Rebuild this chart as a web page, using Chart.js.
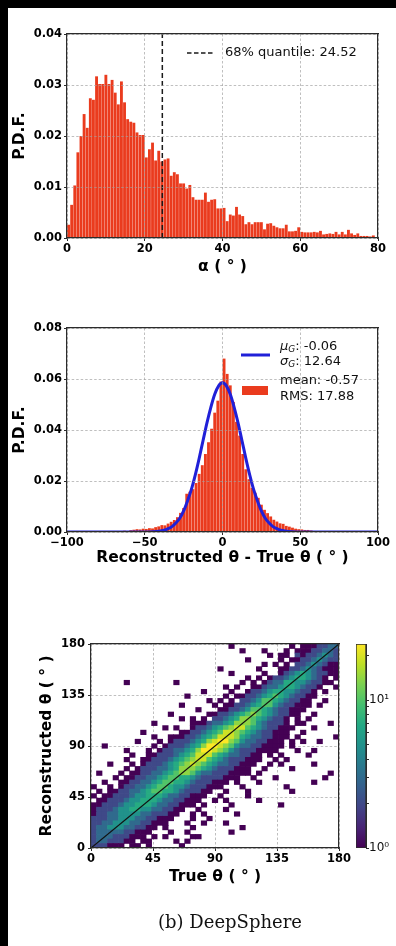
<!DOCTYPE html>
<html>
<head>
<meta charset="utf-8">
<script src="https://cdn.jsdelivr.net/npm/chart.js@4.4.1/dist/chart.umd.min.js"></script>
<style>
  html, body { margin: 0; padding: 0; background: #fff; }
  body { width: 396px; height: 946px; position: relative; overflow: hidden; }
  canvas { position: absolute; left: 0; }
  .frame { position: absolute; background: #000; z-index: 5; }
  #caption { position: absolute; left: 110px; top: 911px; width: 240px; text-align: center;
    font-family: "DejaVu Serif", serif; font-size: 18px; line-height: 22px; color: #111; }
</style>
</head>
<body>
<div class="frame" style="left:0;top:0;width:396px;height:8px"></div>
<div class="frame" style="left:0;top:0;width:8px;height:946px"></div>
<canvas id="alphaChart" style="top:0" width="396" height="300"></canvas>
<canvas id="residChart" style="top:300px" width="396" height="300"></canvas>
<canvas id="thetaChart" style="top:600px" width="396" height="346"></canvas>
<canvas id="cbarChart" style="top:600px;left:340px" width="56" height="346"></canvas>
<div id="caption">(b) DeepSphere</div>
<script>
// opening angle alpha, 100 bins of 0.8 deg from 0
const alphaBinStart = 0, alphaBinWidth = 0.8;
const alphaPdf = [
  0.0026, 0.0065, 0.0103, 0.0168, 0.0200, 0.0243, 0.0216, 0.0274, 0.0271, 0.0317,
  0.0302, 0.0302, 0.0320, 0.0302, 0.0310, 0.0285, 0.0262, 0.0307, 0.0266, 0.0233,
  0.0228, 0.0226, 0.0207, 0.0202, 0.0202, 0.0158, 0.0174, 0.0187, 0.0152, 0.0171,
  0.0150, 0.0154, 0.0156, 0.0122, 0.0129, 0.0125, 0.0107, 0.0107, 0.0097, 0.0104,
  0.0080, 0.0075, 0.0075, 0.0075, 0.0089, 0.0071, 0.0075, 0.0076, 0.0058, 0.0058,
  0.0059, 0.0033, 0.0046, 0.0044, 0.0061, 0.0046, 0.0043, 0.0027, 0.0031, 0.0027,
  0.0031, 0.0031, 0.0031, 0.0017, 0.0028, 0.0029, 0.0024, 0.0021, 0.0019, 0.0019,
  0.0026, 0.0013, 0.0013, 0.0014, 0.0021, 0.0012, 0.0011, 0.0011, 0.0011, 0.0012,
  0.0011, 0.0014, 0.0007, 0.0008, 0.0009, 0.0008, 0.0012, 0.0007, 0.0012, 0.0007,
  0.0016, 0.0009, 0.0006, 0.0009, 0.0004, 0.0004, 0.0004, 0.0003, 0.0005, 0.0002
];
const alphaQuantile = 24.52;
const alphaXTicks = [0, 20, 40, 60, 80];
const alphaYTicks = [0, 0.01, 0.02, 0.03, 0.04];

// reconstructed - true theta, 100 bins of 2 deg from -100
const residBinStart = -100, residBinWidth = 2;
const residPdf = [
  0, 0, 0, 0, 0, 0, 0, 0, 0, 0,
  0, 0.0001, 0, 0.0002, 0.0002, 0.0003, 0.0002, 0.0004, 0.0005, 0.0004,
  0.0007, 0.0009, 0.0011, 0.0010, 0.0013, 0.0012, 0.0015, 0.0014, 0.0019, 0.0022,
  0.0027, 0.0026, 0.0033, 0.0040, 0.0047, 0.0058, 0.0075, 0.0094, 0.0150, 0.0158,
  0.0168, 0.0192, 0.0228, 0.0262, 0.0306, 0.0352, 0.0405, 0.0468, 0.0515, 0.0590,
  0.0680, 0.0620, 0.0575, 0.0510, 0.0432, 0.0378, 0.0306, 0.0246, 0.0207, 0.0173,
  0.0154, 0.0134, 0.0107, 0.0087, 0.0074, 0.0061, 0.0048, 0.0041, 0.0034, 0.0032,
  0.0024, 0.0021, 0.0017, 0.0013, 0.0011, 0.0010, 0.0008, 0.0008, 0.0006, 0.0004,
  0.0003, 0.0003, 0.0002, 0.0001, 0.0002, 0.0001, 0, 0, 0.0001, 0,
  0, 0, 0, 0, 0, 0, 0, 0, 0, 0
];
const gaussX = [-100, -50, -45, -40, -37.5, -35, -32.5, -30, -27.5, -25, -22.5, -20, -17.5, -15, -12.5, -10, -7.5, -5, -2.5,
  0, 2.5, 5, 7.5, 10, 12.5, 15, 17.5, 20, 22.5, 25, 27.5, 30, 32.5, 35, 37.5, 40, 45, 50, 100];
const gaussY = [0, 0, 0.0001, 0.0004, 0.0007, 0.0013, 0.0021, 0.0035, 0.0054, 0.0083, 0.0122, 0.0167, 0.0224, 0.0289, 0.0359, 0.0428, 0.0489, 0.0540, 0.0573,
  0.0585, 0.0573, 0.0540, 0.0489, 0.0428, 0.0359, 0.0289, 0.0224, 0.0167, 0.0122, 0.0083, 0.0054, 0.0035, 0.0021, 0.0013, 0.0007, 0.0004, 0.0001, 0, 0];
const gaussMu = -0.06, gaussSigma = 12.64, residMean = -0.57, residRms = 17.88;
const residXTicks = [-100, -50, 0, 50, 100];
const residYTicks = [0, 0.02, 0.04, 0.06, 0.08];

// 2D histogram, 4 deg cells; rows from top (176-180) down to (0-4); chars index countLevels
const thetaBinWidth = 4, thetaMax = 180;
const thetaRows = [
  "..... ..... ..... ..... ..... 1.... ..... .1.11 12233",
  "..... ..... ..... ..... ..... ..1.. .1... 1.111 22332",
  "..... ..... ..... ..... ..... ..... ..1.1 1.212 23432",
  "..... ..... ..... ..... ..... ...1. ....1 .1122 34322",
  "..... ..... ..... ..... ..... ..... .1.1. 1.223 43211",
  "..... ..... ..... ..... ...1. ..... 1...1 12234 32111",
  "..... ..... ..... ..... ..... 1.... .1..1 23454 32211",
  "..... ..... ..... ..... ..... ...1. 1.122 34554 321.1",
  "..... .1... ..... 1.... ..... ..1.1 .1233 55443 2211.",
  "..... ..... ..... ..... ....1 .1..1 12334 55432 21..1",
  "..... ..... ..... ..... 1.... 1..12 23455 44322 1.1..",
  "..... ..... ..... ..1.. ....1 .1122 34565 43221 1....",
  "..... ..... ..... ..... .1.1. 1.223 46654 32211 ..1..",
  "..... ..... ..... .1... ..1.1 12234 56643 22111 .1...",
  "..... ..... ..... ....1 ...11 22346 65432 2111. .....",
  "..... ..... ....1 ..... .1122 34567 65432 211.. 1....",
  "..... ..... ..... .1.1. 1.223 45776 54322 1.1.1 .....",
  "..... ..... .1... ...11 12334 57776 43222 1.11. ...1.",
  "..... ..... ...1. 1..12 23456 78865 43221 11... 1....",
  "..... ....1 ..... .1122 34568 87654 32211 1..1. .....",
  "..... ..... .1..1 11223 45688 87543 32211 1.1.. ....1",
  "..... ...1. ..1.1 22234 57899 76433 22111 .1.1. .1...",
  "..1.. ..... .1.12 22345 79987 64332 21111 .1... .....",
  "..... .1... 1.122 33457 99876 43222 1111. ..1.. 1....",
  "..... ..1.. 11222 34568 88654 33221 1.1.1 ....1 .....",
  "..... .1..1 12223 45678 86543 22211 1..1. 1.... .....",
  "...1. ..1.1 22234 56787 65433 22111 ..1.1 ..... 1....",
  "..... .1.12 22334 57776 54322 2111. .1... .1... .....",
  ".1... 1.112 23345 67764 33222 1111. 1.... ..... ...1.",
  "....1 .1122 33456 65543 22221 11..1 ...1. ..... ..1..",
  "..1.. 11223 34566 55432 22111 .1... 1.... ..... 1....",
  "1..1. 12233 45665 44322 2111. ..1.. ..... 1.... .....",
  ".1.11 22334 56655 43222 11..1 ...1. ..... .1... .....",
  "1.112 22344 55543 32211 1..1. ...1. ..... ..... .....",
  ".1122 23445 55433 22111 ..1.1 ..... 1.... ..... .....",
  "11222 34455 54332 2111. 1.... 1.... ....1 ..... .....",
  "12223 44554 43322 11..1 ....1 ..... ..... ..... .....",
  "12233 44443 32221 1..1. 1.... .1... ..... ..... .....",
  "22233 44433 22111 ...1. .1... ..... ..... ..... .....",
  "22334 44332 2111. ..1.. 1...1 ..... ..... ..... .....",
  "23344 43322 11.1. ...1. ..... ..1.. ..... ..... .....",
  "23333 32211 1...1 ..1.. ..... 1.... ..... ..... .....",
  "23332 22111 .1.1. ...11 ..... ..... ..... ..... .....",
  "23322 211.1 1.... 1.1.. ..... ..... ..... ..... .....",
  "22211 1.11. 1.... .1... ..... ..... ..... ..... ....."
];
const countLevels = [0, 1, 2, 3, 5, 7, 10, 14, 19, 24];
const thetaTicks = [0, 45, 90, 135, 180];
const cbarRange = [1, 24];
const cbarTicks = [1, 2, 3, 4, 5, 6, 7, 8, 9, 10, 20];

// ---- styling ----
Chart.defaults.font.family = "'DejaVu Sans', sans-serif";
const red = '#ea3b1e';
const blue = '#2020d8';
const gridColor = 'rgba(160,160,160,0.85)';
const frameColor = '#2b2b2b';
const tickFont = { family: 'DejaVu Sans', size: 11.5, weight: 'bold' };
const titleFont = { family: 'DejaVu Sans', size: 15.5, weight: 'bold' };
const viridisStops = ['#440154', '#482475', '#414487', '#355f8d', '#2a788e', '#21918c',
  '#22a884', '#44bf70', '#7ad151', '#bddf26', '#fde725'];

function hexRgb(h) {
  return [1, 3, 5].map(i => parseInt(h.slice(i, i + 2), 16));
}
function viridis(t) {
  t = Math.min(1, Math.max(0, t));
  const p = t * (viridisStops.length - 1);
  const i = Math.min(Math.floor(p), viridisStops.length - 2), f = p - i;
  const a = hexRgb(viridisStops[i]), b = hexRgb(viridisStops[i + 1]);
  return 'rgb(' + a.map((v, k) => Math.round(v + (b[k] - v) * f)).join(',') + ')';
}

function axis(o) {
  return {
    type: 'linear', position: o.position, min: o.min, max: o.max, offset: false,
    afterBuildTicks: s => { s.ticks = o.ticks.map(v => ({ value: v })); },
    afterFit: o.fit,
    ticks: { font: tickFont, color: '#000', padding: o.pad, autoSkip: false, maxRotation: 0, callback: o.label },
    grid: { color: gridColor, lineWidth: 0.8, offset: false, tickLength: 3, tickColor: frameColor, tickWidth: 1, z: o.gridZ },
    border: { color: frameColor, width: 1.2, dash: [2.5, 2], z: 2 },
    title: { display: true, text: o.title, font: titleFont, color: '#000', padding: o.titlePad }
  };
}
function frameEdges() {
  const edge = { color: frameColor, width: 1.2, z: 2 };
  return {
    xTop: { type: 'linear', position: 'top', afterFit: s => { s.height = 0; },
      ticks: { display: false }, grid: { display: false, drawTicks: false }, border: edge },
    yRight: { type: 'linear', position: 'right', afterFit: s => { s.width = 0; },
      ticks: { display: false }, grid: { display: false, drawTicks: false }, border: edge }
  };
}
const minus = v => String(v).replace('-', '\u2212');
const common = {
  responsive: false, animation: false, events: [],
  plugins: { legend: { display: false }, tooltip: { enabled: false } }
};

// ---- chart 1: alpha ----
const alphaLegend = {
  id: 'alphaLegend',
  afterDraw(chart) {
    const { ctx, chartArea: a } = chart;
    const y = a.top + 19;
    ctx.save();
    ctx.strokeStyle = '#1a1a1a'; ctx.lineWidth = 1.5; ctx.setLineDash([4.5, 2.5]);
    ctx.beginPath(); ctx.moveTo(a.left + 120, y); ctx.lineTo(a.left + 146, y); ctx.stroke();
    ctx.setLineDash([]);
    ctx.fillStyle = '#111'; ctx.font = '13px "DejaVu Sans"'; ctx.textBaseline = 'middle';
    ctx.fillText('68% quantile: ' + alphaQuantile.toFixed(2), a.left + 158, y);
    ctx.restore();
  }
};

new Chart(document.getElementById('alphaChart'), {
  type: 'bar',
  data: { datasets: [
    { type: 'line', xAxisID: 'x', yAxisID: 'y', order: 1,
      data: [{ x: alphaQuantile, y: 0 }, { x: alphaQuantile, y: alphaYTicks[alphaYTicks.length - 1] }],
      borderColor: '#1a1a1a', borderWidth: 1.5, borderDash: [5, 3], pointRadius: 0 },
    { xAxisID: 'x', yAxisID: 'y', order: 2,
      data: alphaPdf.map((v, i) => ({ x: alphaBinStart + (i + 0.5) * alphaBinWidth, y: v })),
      backgroundColor: red, categoryPercentage: 1, barPercentage: 0.92 }
  ]},
  options: Object.assign({}, common, {
    layout: { padding: { left: 0, top: 34, right: 18, bottom: 22 } },
    scales: Object.assign({
      x: axis({ position: 'bottom', min: 0, max: 80, ticks: alphaXTicks, fit: s => { s.height = 40; },
        pad: 1, label: v => String(v), gridZ: 1, title: 'α ( ° )', titlePad: { top: 0, bottom: 1.7 } }),
      y: axis({ position: 'left', min: 0, max: 0.04, ticks: alphaYTicks, fit: s => { s.width = 67; },
        pad: 2, label: v => v.toFixed(2), gridZ: 1, title: 'P.D.F.', titlePad: { top: 10.7, bottom: 0 } })
    }, frameEdges())
  }),
  plugins: [alphaLegend]
});

// ---- chart 2: residuals ----
const residLegend = {
  id: 'residLegend',
  afterDraw(chart) {
    const { ctx, chartArea: a } = chart;
    const tx = a.left + 213;
    ctx.save();
    ctx.strokeStyle = blue; ctx.lineWidth = 3;
    ctx.beginPath(); ctx.moveTo(a.left + 174, a.top + 27); ctx.lineTo(a.left + 203, a.top + 27); ctx.stroke();
    ctx.fillStyle = red;
    ctx.fillRect(a.left + 175, a.top + 58, 26, 9);
    ctx.fillStyle = '#111'; ctx.textBaseline = 'middle';
    const sub = (sym, rest, y) => {
      let x = tx;
      ctx.font = 'italic 13px "DejaVu Sans"'; ctx.fillText(sym, x, y); x += ctx.measureText(sym).width;
      ctx.font = 'italic 9px "DejaVu Sans"'; ctx.fillText('G', x, y + 3); x += ctx.measureText('G').width;
      ctx.font = '13px "DejaVu Sans"'; ctx.fillText(rest, x, y);
    };
    sub('μ', ': ' + gaussMu.toFixed(2), a.top + 19);
    sub('σ', ': ' + gaussSigma.toFixed(2), a.top + 34);
    ctx.font = '13px "DejaVu Sans"';
    ctx.fillText('mean: ' + residMean.toFixed(2), tx, a.top + 53);
    ctx.fillText('RMS: ' + residRms.toFixed(2), tx, a.top + 69);
    ctx.restore();
  }
};

new Chart(document.getElementById('residChart'), {
  type: 'bar',
  data: { datasets: [
    { type: 'line', xAxisID: 'x', yAxisID: 'y', order: 1,
      data: gaussX.map((x, i) => ({ x: x, y: gaussY[i] })),
      borderColor: blue, borderWidth: 3, pointRadius: 0, cubicInterpolationMode: 'monotone' },
    { xAxisID: 'x', yAxisID: 'y', order: 2,
      data: residPdf.map((v, i) => ({ x: residBinStart + (i + 0.5) * residBinWidth, y: v })),
      backgroundColor: red, categoryPercentage: 1, barPercentage: 0.92 }
  ]},
  options: Object.assign({}, common, {
    layout: { padding: { left: 0, top: 28, right: 18, bottom: 28 } },
    scales: Object.assign({
      x: axis({ position: 'bottom', min: -100, max: 100, ticks: residXTicks, fit: s => { s.height = 40; },
        pad: 1, label: minus, gridZ: 1, title: 'Reconstructed θ - True θ ( ° )', titlePad: { top: 0, bottom: 4.7 } }),
      y: axis({ position: 'left', min: 0, max: 0.08, ticks: residYTicks, fit: s => { s.width = 67; },
        pad: 2, label: v => v.toFixed(2), gridZ: 1, title: 'P.D.F.', titlePad: { top: 10.7, bottom: 0 } })
    }, frameEdges())
  }),
  plugins: [residLegend]
});

// ---- chart 3: true vs reconstructed theta ----
const cells = [], cellColors = [];
thetaRows.forEach((row, r) => {
  row.replace(/ /g, '').split('').forEach((ch, c) => {
    if (ch === '.') return;
    const top = thetaMax - r * thetaBinWidth;
    cells.push({ x: (c + 0.5) * thetaBinWidth, y: [top - thetaBinWidth, top] });
    cellColors.push(viridis(Math.log(countLevels[+ch]) / Math.log(cbarRange[1])));
  });
});

new Chart(document.getElementById('thetaChart'), {
  type: 'bar',
  data: { datasets: [
    { type: 'line', xAxisID: 'x', yAxisID: 'y', order: 0,
      data: [{ x: 0, y: 0 }, { x: thetaMax, y: thetaMax }],
      borderColor: '#111', borderWidth: 1.2, pointRadius: 0 },
    { xAxisID: 'x', yAxisID: 'y', order: 1, data: cells, backgroundColor: cellColors,
      borderWidth: 0, categoryPercentage: 1, barPercentage: 1 }
  ]},
  options: Object.assign({}, common, {
    layout: { padding: { left: 0, top: 44, right: 57, bottom: 58 } },
    scales: Object.assign({
      x: axis({ position: 'bottom', min: 0, max: thetaMax, ticks: thetaTicks, fit: s => { s.height = 40; },
        pad: 1, label: v => String(v), gridZ: -1, title: 'True θ ( ° )', titlePad: { top: 0, bottom: 2 } }),
      y: axis({ position: 'left', min: 0, max: thetaMax, ticks: thetaTicks, fit: s => { s.width = 91; },
        pad: 3, label: v => String(v), gridZ: -1, title: 'Reconstructed θ ( ° )', titlePad: { top: 37.7, bottom: 0 } })
    }, frameEdges())
  })
});

// ---- colorbar ----
new Chart(document.getElementById('cbarChart'), {
  type: 'bar',
  data: { labels: [''], datasets: [{
    data: [cbarRange],
    backgroundColor: c => {
      const a = c.chart.chartArea;
      if (!a) return viridis(0.5);
      const g = c.chart.ctx.createLinearGradient(0, a.bottom, 0, a.top);
      viridisStops.forEach((col, i) => g.addColorStop(i / (viridisStops.length - 1), col));
      return g;
    },
    borderColor: frameColor, borderWidth: 1, borderSkipped: false,
    categoryPercentage: 1, barPercentage: 1
  }]},
  options: Object.assign({}, common, {
    layout: { padding: { left: 16, top: 44, right: 0, bottom: 98 } },
    scales: {
      x: { display: false },
      y: { type: 'logarithmic', position: 'right', min: cbarRange[0], max: cbarRange[1],
        afterBuildTicks: s => { s.ticks = cbarTicks.map(v => ({ value: v })); },
        afterFit: s => { s.width = 30; },
        ticks: { font: { family: 'DejaVu Sans', size: 12 }, color: '#111', padding: 0, autoSkip: false,
          callback: v => v === 1 ? '10\u2070' : (v === 10 ? '10\u00b9' : '') },
        grid: { display: true, drawOnChartArea: false, tickLength: 3, tickColor: frameColor, color: frameColor },
        border: { display: true, color: frameColor, width: 1 } }
    }
  })
});
</script>
</body>
</html>
